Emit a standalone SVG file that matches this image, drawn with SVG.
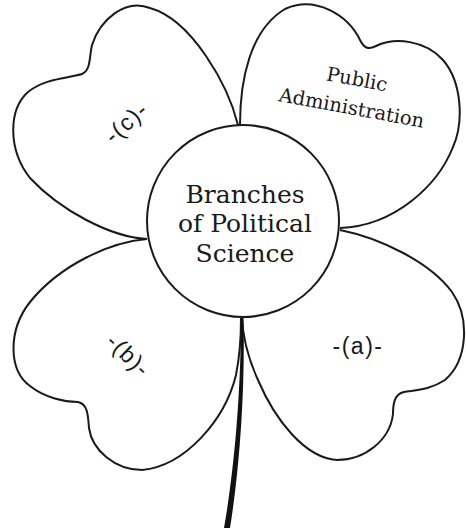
<svg xmlns="http://www.w3.org/2000/svg" width="466" height="528" viewBox="0 0 466 528">
<style>
.petal{fill:#fff;stroke:#1a1a1a;stroke-width:2;stroke-linejoin:round}
.serif{font-family:"DejaVu Serif","Liberation Serif",serif;fill:#1a1a1a;text-anchor:middle}
.sans{font-family:"Liberation Sans",Arial,sans-serif;font-size:23px;letter-spacing:1.5px;fill:#1a1a1a;text-anchor:middle}
</style>
<rect width="466" height="528" fill="#fff"/>
<g id="petal-c">
<path class="petal" d="M 238,125 C 228,85 192,20 150,8 C 125,-2 100,20 92,45 C 89,58 91,70 82,74 C 70,78 45,78 28,92 C 8,110 8,150 30,178 C 60,210 110,237 147,239"/>
<text class="sans" transform="rotate(-42 127 123)" x="127" y="130">-(c)-</text>
</g>
<g id="petal-public-administration">
<path class="petal" d="M 240,125 C 240,80 250,30 285,9 C 315,-5 348,15 360,40 C 364,48 368,50 376,46 C 395,37 425,40 443,60 C 462,82 464,122 453,147 C 438,185 395,226 340,228"/>
<g transform="rotate(10.5 350 100)">
<text class="serif" x="353" y="85" font-size="19.5">Public</text>
<text class="serif" x="353" y="114" font-size="19.5">Administration</text>
</g>
</g>
<g id="petal-b">
<path class="petal" d="M 147,239 C 110,242 60,265 30,302 C 8,330 8,370 30,386 C 45,398 65,402 78,402 C 88,404 88,416 89,428 C 92,450 115,470 142,470 C 185,466 225,420 236,375 C 240,355 241,335 241,318"/>
<text class="sans" transform="rotate(44 128 356)" x="128" y="363">-(b)-</text>
</g>
<g id="petal-a">
<path class="petal" d="M 340,230 C 380,238 430,262 452,292 C 470,318 468,360 445,380 C 430,390 415,390 404,392 C 394,394 393,405 393,414 C 390,440 365,460 337,460 C 305,458 275,420 258,380 C 248,358 243,340 242,318"/>
<text class="sans" x="358" y="354">-(a)-</text>
</g>
<g id="connectors">
<path d="M 241,318 C 241,380 236,460 224,528 L 230,528 C 241,460 245,380 243.5,318 Z" fill="#111"/>
</g>
<g id="center">
<circle cx="243" cy="221" r="96" fill="#fff" stroke="#1a1a1a" stroke-width="2"/>
<text class="serif" x="245" y="203" font-size="25">Branches</text>
<text class="serif" x="245" y="232" font-size="25">of Political</text>
<text class="serif" x="245" y="262" font-size="25">Science</text>
</g>
</svg>
